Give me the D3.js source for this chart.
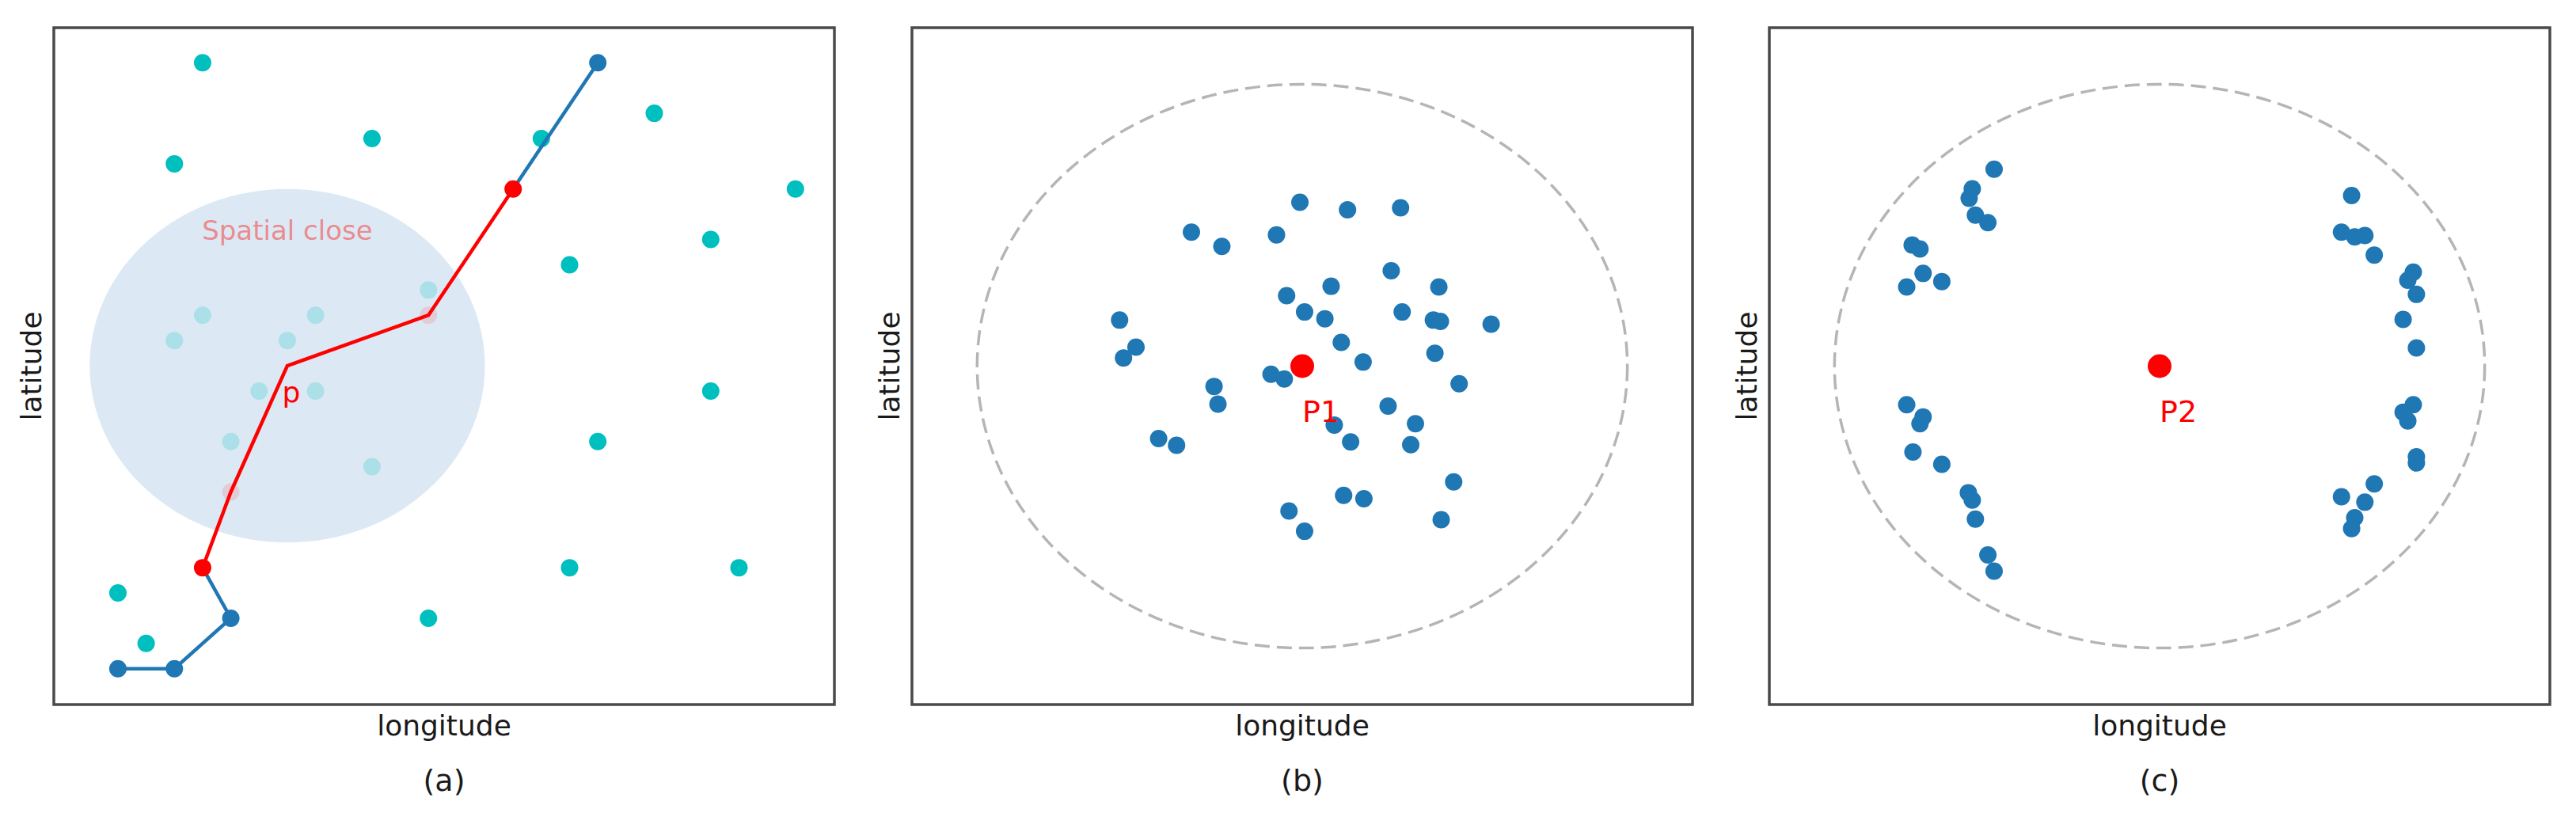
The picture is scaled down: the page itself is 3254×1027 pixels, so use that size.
<!DOCTYPE html>
<html>
<head>
<meta charset="utf-8">
<script src="https://cdn.jsdelivr.net/npm/d3@7"></script>
<style>
  body { margin: 0; background: #fff; }
  svg text { font-family: "DejaVu Sans", sans-serif; }
</style>
</head>
<body>
<svg id="chart" width="3254" height="1027"></svg>
<script>
// Panel (a): grid points (integer grid coordinates)
var otherX = [3, 9, 2, 15, 19, 24, 21, 16, 21, 17, 16, 22, 0, 1, 11];
var otherY = [24, 21, 20, 21, 22, 19, 17, 16, 11, 9, 4, 4, 3, 1, 2];
// points that fall inside the "spatial close" area
var closeX = [11, 3, 7, 2, 6, 5, 7, 4, 9];
var closeY = [15, 14, 14, 13, 13, 11, 11, 9, 8];
// trajectory, the close part runs from index 3 to 7, point p is index 5
var trajX = [0, 2, 4, 3, 4, 6, 11, 14, 17];
var trajY = [0, 0, 2, 4, 7, 12, 14, 19, 24];
var closeStart = 3, closeEnd = 7, pIndex = 5, closeRadius = 7;

// Panel (b): neighbours scattered around P1
var bX = [49.7, 55.8, 62.6, 35.8, 39.7, 46.7, 61.4, 53.7, 67.5, 48.0,
          50.3, 52.9, 62.8, 66.8, 67.7, 74.2, 26.6, 28.7, 27.1, 55.0,
          57.8, 67.0, 46.0, 47.7, 38.7, 39.2, 70.1, 61.0, 54.1, 64.5,
          56.2, 63.9, 31.6, 33.9, 69.4, 55.3, 57.9, 48.3, 50.3, 67.8];
var bY = [74.2, 73.1, 73.4, 69.8, 67.7, 69.4, 64.1, 61.8, 61.7, 60.4,
          58.0, 57.0, 58.0, 56.8, 56.6, 56.2, 56.8, 52.8, 51.2, 53.5,
          50.6, 51.9, 48.8, 48.1, 47.0, 44.4, 47.4, 44.1, 41.3, 41.5,
          38.8, 38.4, 39.3, 38.3, 32.9, 30.9, 30.4, 28.6, 25.6, 27.3];

// Panel (c): neighbours spread towards the edge around P2
var cX = [28.8, 26.0, 25.6, 26.4, 28.0, 18.3, 19.3, 19.7, 22.1, 17.6,
          17.6, 19.7, 19.3, 18.4, 22.1, 25.5, 26.0, 26.4, 28.0, 28.8,
          74.6, 73.3, 75.0, 76.3, 77.5, 82.5, 81.8, 82.9, 81.2, 82.9,
          82.5, 81.2, 81.8, 82.9, 82.9, 77.5, 73.3, 76.3, 75.0, 74.6];
var cY = [79.1, 76.2, 74.8, 72.3, 71.2, 67.9, 67.3, 63.7, 62.5, 61.7,
          44.3, 42.5, 41.5, 37.3, 35.5, 31.3, 30.2, 27.4, 22.1, 19.7,
          75.2, 69.8, 69.1, 69.3, 66.4, 63.9, 62.7, 60.6, 56.9, 52.7,
          44.3, 43.2, 41.9, 36.6, 35.7, 32.6, 30.7, 29.9, 27.6, 26.0];

var centerPoint = [50, 50], searchRadius = 41.65;
var captions = ["(a)", "(b)", "(c)"];
var centerLabels = ["P1", "P2"];

var BLUE = "#1f77b4", CYAN = "#00bfbf", RED = "#ff0000";
var DOT = 11;

var svg = d3.select("#chart");
var panelLeft = [68, 1152, 2235], panelW = 986, panelTop = 35, panelH = 855;

function makePanel(i, xDomain, yDomain) {
    var g = svg.append("g").attr("transform", "translate(" + panelLeft[i] + "," + panelTop + ")");
    var x = d3.scaleLinear().domain(xDomain).range([0, panelW]);
    var y = d3.scaleLinear().domain(yDomain).range([panelH, 0]);
    return { g: g, x: x, y: y };
}

//Frame, axis titles and the caption under each panel
function finishPanel(p, i) {
    p.g.append("rect")
        .attr("width", panelW).attr("height", panelH)
        .attr("fill", "none").attr("stroke", "#4a4a4a").attr("stroke-width", 3.5);
    p.g.append("text")
        .attr("transform", "translate(-16," + (panelH / 2) + ") rotate(-90)")
        .attr("text-anchor", "middle")
        .attr("font-size", 36).attr("fill", "#1a1a1a")
        .text("latitude");
    p.g.append("text")
        .attr("x", panelW / 2).attr("y", panelH + 39)
        .attr("text-anchor", "middle")
        .attr("font-size", 36).attr("fill", "#1a1a1a")
        .text("longitude");
    p.g.append("text")
        .attr("x", panelW / 2).attr("y", panelH + 109)
        .attr("text-anchor", "middle")
        .attr("font-size", 38).attr("fill", "#1a1a1a")
        .text(captions[i]);
}

//Panel (a)
var a = makePanel(0, [-2.27, 25.38], [-1.42, 25.39]);

a.g.selectAll(".other")
    .data(d3.range(otherX.length))
    .enter().append("circle")
    .attr("cx", function (d) { return a.x(otherX[d]); })
    .attr("cy", function (d) { return a.y(otherY[d]); })
    .attr("r", DOT).attr("fill", CYAN);

var pc = [trajX[pIndex], trajY[pIndex]];
a.g.append("ellipse")
    .attr("cx", a.x(pc[0])).attr("cy", a.y(pc[1]))
    .attr("rx", a.x(closeRadius) - a.x(0))
    .attr("ry", a.y(0) - a.y(closeRadius))
    .attr("fill", "#dce9f4");

a.g.selectAll(".close")
    .data(d3.range(closeX.length))
    .enter().append("circle")
    .attr("cx", function (d) { return a.x(closeX[d]); })
    .attr("cy", function (d) { return a.y(closeY[d]); })
    .attr("r", DOT).attr("fill", CYAN).attr("opacity", 0.22);

//faded trajectory points inside the area
[4, 6].forEach(function (k) {
    a.g.append("circle")
        .attr("cx", a.x(trajX[k])).attr("cy", a.y(trajY[k]))
        .attr("r", DOT).attr("fill", RED).attr("opacity", 0.12);
});

a.g.append("text")
    .attr("x", a.x(pc[0])).attr("y", a.y(17))
    .attr("text-anchor", "middle")
    .attr("font-size", 34).attr("fill", "#ea8c90")
    .text("Spatial close");

var line = d3.line()
    .x(function (d) { return a.x(trajX[d]); })
    .y(function (d) { return a.y(trajY[d]); });

a.g.append("path").attr("d", line(d3.range(0, closeStart + 1)))
    .attr("fill", "none").attr("stroke", BLUE).attr("stroke-width", 4.5);
a.g.append("path").attr("d", line(d3.range(closeEnd, trajX.length)))
    .attr("fill", "none").attr("stroke", BLUE).attr("stroke-width", 4.5);
a.g.append("path").attr("d", line(d3.range(closeStart, closeEnd + 1)))
    .attr("fill", "none").attr("stroke", RED).attr("stroke-width", 4.5);

a.g.selectAll(".traj")
    .data([0, 1, 2, closeStart, closeEnd, trajX.length - 1])
    .enter().append("circle")
    .attr("cx", function (d) { return a.x(trajX[d]); })
    .attr("cy", function (d) { return a.y(trajY[d]); })
    .attr("r", DOT)
    .attr("fill", function (d) { return (d == closeStart || d == closeEnd) ? RED : BLUE; });

a.g.append("text")
    .attr("x", a.x(pc[0]) + 5).attr("y", a.y(pc[1]) + 46)
    .attr("text-anchor", "middle")
    .attr("font-size", 36).attr("fill", RED)
    .text("p");

finishPanel(a, 0);

//Panels (b) and (c)
[[bX, bY], [cX, cY]].forEach(function (set, k) {
    var p = makePanel(k + 1, [0, 100], [0, 100]);

    p.g.append("ellipse")
        .attr("cx", p.x(centerPoint[0])).attr("cy", p.y(centerPoint[1]))
        .attr("rx", p.x(searchRadius) - p.x(0))
        .attr("ry", p.y(0) - p.y(searchRadius))
        .attr("fill", "none").attr("stroke", "#b8b4b4")
        .attr("stroke-width", 3.5).attr("stroke-dasharray", "19,9");

    p.g.selectAll(".pt")
        .data(d3.range(set[0].length))
        .enter().append("circle")
        .attr("cx", function (d) { return p.x(set[0][d]); })
        .attr("cy", function (d) { return p.y(set[1][d]); })
        .attr("r", DOT).attr("fill", BLUE);

    p.g.append("circle")
        .attr("cx", p.x(centerPoint[0])).attr("cy", p.y(centerPoint[1]))
        .attr("r", 15).attr("fill", RED);

    p.g.append("text")
        .attr("x", p.x(centerPoint[0])).attr("y", p.y(centerPoint[1]) + 70)
        .attr("font-size", 38).attr("fill", RED)
        .text(centerLabels[k]);

    finishPanel(p, k + 1);
});
</script>
</body>
</html>
